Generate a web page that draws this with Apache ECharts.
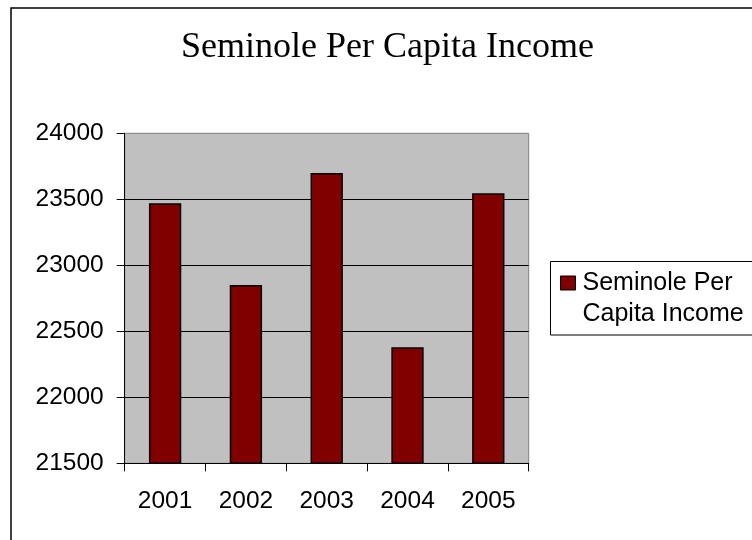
<!DOCTYPE html>
<html>
<head>
<meta charset="utf-8">
<script src="https://cdn.jsdelivr.net/npm/echarts@6/dist/echarts.min.js"></script>
<style>
html,body{margin:0;padding:0;background:#fff;}
#chart{width:752px;height:540px;}
</style>
</head>
<body>
<div id="chart"></div>
<script>
var titleText = 'Seminole Per Capita Income';
var seriesName = 'Seminole Per Capita Income';
var categories = ['2001', '2002', '2003', '2004', '2005'];
var values = [23470, 22850, 23700, 22380, 23545];
var yMin = 21500, yMax = 24000, yStep = 500;

var chart = echarts.init(document.getElementById('chart'));
chart.setOption({
  animation: false,
  backgroundColor: '#ffffff',
  title: {
    text: titleText,
    left: 181,
    top: 30,
    padding: 0,
    textStyle: {fontFamily: 'Liberation Serif, Times New Roman, serif', fontSize: 36, fontWeight: 'normal', color: '#000'}
  },
  graphic: [
    {type: 'rect', z: -10, silent: true, shape: {x: 11, y: 8, width: 900, height: 700}, style: {fill: 'none', stroke: '#000', lineWidth: 1.5}},
    {type: 'rect', z: 0, silent: true, shape: {x: 550.5, y: 261.5, width: 300, height: 73.5}, style: {fill: '#fff', stroke: '#000', lineWidth: 1}}
  ],
  legend: {
    data: [seriesName],
    left: 560,
    top: 236.5,
    padding: 0,
    z: 10,
    itemWidth: 15,
    itemHeight: 14,
    icon: 'rect',
    formatter: function () { return ' \nSeminole Per\nCapita Income'; },
    itemStyle: {borderColor: '#000', borderWidth: 1},
    textStyle: {fontFamily: 'Liberation Sans, Arial, sans-serif', fontSize: 25, color: '#000', lineHeight: 31, padding: [0, 0, 0, 2]}
  },
  grid: {
    left: 124.7, right: 223.3, top: 133.3, bottom: 76.7,
    show: true, backgroundColor: '#C0C0C0', borderColor: '#808080', borderWidth: 1
  },
  xAxis: {
    type: 'category',
    data: categories,
    boundaryGap: true,
    axisLine: {show: true, lineStyle: {color: '#000', width: 1}},
    axisTick: {show: true, alignWithLabel: false, length: 8, lineStyle: {color: '#000'}},
    axisLabel: {margin: 25, color: '#000', fontFamily: 'Liberation Sans, Arial, sans-serif', fontSize: 24.5}
  },
  yAxis: {
    type: 'value',
    min: yMin, max: yMax, interval: yStep,
    axisLine: {show: true, lineStyle: {color: '#000', width: 1}},
    axisTick: {show: true, length: 8, lineStyle: {color: '#000'}},
    axisLabel: {margin: 21, color: '#000', fontFamily: 'Liberation Sans, Arial, sans-serif', fontSize: 24.5,
      formatter: function (v) { return String(v); }},
    splitLine: {show: true, showMaxLine: false, lineStyle: {color: '#000', width: 1}}
  },
  series: [{
    name: seriesName,
    type: 'bar',
    data: values,
    barWidth: '40%',
    itemStyle: {color: '#800000', borderColor: '#000', borderWidth: 1.5}
  }]
});
</script>
</body>
</html>
